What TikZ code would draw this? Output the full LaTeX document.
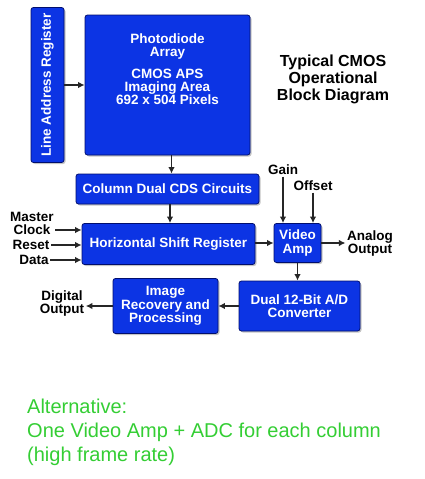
\documentclass[tikz,border=0pt]{standalone}
\usepackage{fontspec}
\setmainfont{Liberation Sans}
\usetikzlibrary{positioning}
\usetikzlibrary{calc}
\usetikzlibrary{arrows.meta}
\usetikzlibrary{shadows}
\definecolor{boxblue}{RGB}{12,52,228}
\definecolor{boxedge}{RGB}{0,14,110}
\definecolor{altgreen}{RGB}{52,206,52}

\tikzset{
    blk/.style={draw=boxedge, line width=0.8pt, fill=boxblue, rounded corners=2.5pt,
        text=white, align=center, inner sep=0pt,
        font=\bfseries\fontsize{13.5}{13.5}\selectfont,
        drop shadow={shadow xshift=1.5pt, shadow yshift=-1.5pt, opacity=0.45}},
    lbl/.style={align=center, inner sep=1.5pt,
        font=\bfseries\fontsize{13.5}{13}\selectfont},
    arr/.style={-{Latex[length=6.5pt,width=6.5pt]}, line width=1.4pt, draw=black!85}
}

\begin{document}
\begin{tikzpicture}[x=1pt, y=-1pt]
    \path[fill=white] (0,0) rectangle (424,479);
    \useasboundingbox (0,0) rectangle (424,479);

    % Line address register and pixel array
    \node[blk, rotate=90, minimum width=155, minimum height=33] (lar) at (47.5,85) {Line Address Register};
    \node[blk, minimum width=165, minimum height=140] (pda) at (167.5,85) {};
    \node[text=white, align=center, inner sep=0pt, font=\bfseries\fontsize{13.5}{13}\selectfont]
        (pdatext) at (167.5,69) {Photodiode\\Array\\[9pt]CMOS APS\\Imaging Area\\692 x 504 Pixels};

    % Title
    \node[align=center, inner sep=0pt, font=\bfseries\fontsize{16}{17}\selectfont]
        (title) at (333,79) {Typical CMOS\\Operational\\Block Diagram};

    % Readout chain
    \node[blk, minimum width=183, minimum height=30] (cds) at (167.5,189) {Column Dual CDS Circuits};
    \node[blk, minimum width=173, minimum height=41] (hsr) at (168.5,244) {Horizontal Shift Register};
    \node[blk, minimum width=47, minimum height=39] (va) at (297.5,243) {Video\\Amp};
    \node[blk, minimum width=121, minimum height=50] (adc) at (299.5,306) {Dual 12-Bit A/D\\Converter};
    \node[blk, minimum width=105, minimum height=55] (irp) at (165.5,306) {Image\\Recovery and\\Processing};

    % Inputs and outputs
    \node[lbl] (mclk) at (32,223.5) {Master\\Clock};
    \node[lbl] (reset) at (31,245) {Reset};
    \node[lbl] (data) at (34,260) {Data};
    \node[lbl] (gain) at (283,170) {Gain};
    \node[lbl] (offset) at (313,186) {Offset};
    \node[lbl] (aout) at (370,244) {Analog\\Output};
    \node[lbl] (dout) at (62,303.5) {Digital\\Output};
    \coordinate (clk) at ([yshift=-6.5pt]mclk.east);

    % Connections
    \draw[arr] (lar.south) -- (pda.west);
    \draw[arr] ([xshift=4pt]pda.south) -- ([xshift=4pt]pda.south |- cds.north);
    \draw[arr] ([xshift=2.5pt]cds.south) -- ([xshift=2.5pt]cds.south |- hsr.north);
    \draw[arr] (clk) -- (clk -| hsr.west);
    \draw[arr] (reset.east) -- (reset.east -| hsr.west);
    \draw[arr] (data.east) -- (data.east -| hsr.west);
    \draw[arr] (hsr.east |- va.west) -- (va.west);
    \draw[arr] (gain.south) -- (gain.south |- va.north);
    \draw[arr] (offset.south) -- (offset.south |- va.north);
    \draw[arr] (va.east) -- (va.east -| aout.west);
    \draw[arr] (va.south) -- (va.south |- adc.north);
    \draw[arr] (adc.west) -- (irp.east);
    \draw[arr] (irp.west) -- (irp.west -| dout.east);

    % Note
    \node[anchor=north west, align=left, inner sep=0pt, text=altgreen,
        font=\fontsize{20}{24}\selectfont] (note) at (27,399)
        {Alternative:\\One Video Amp + ADC for each column\\(high frame rate)};
\end{tikzpicture}
\end{document}
